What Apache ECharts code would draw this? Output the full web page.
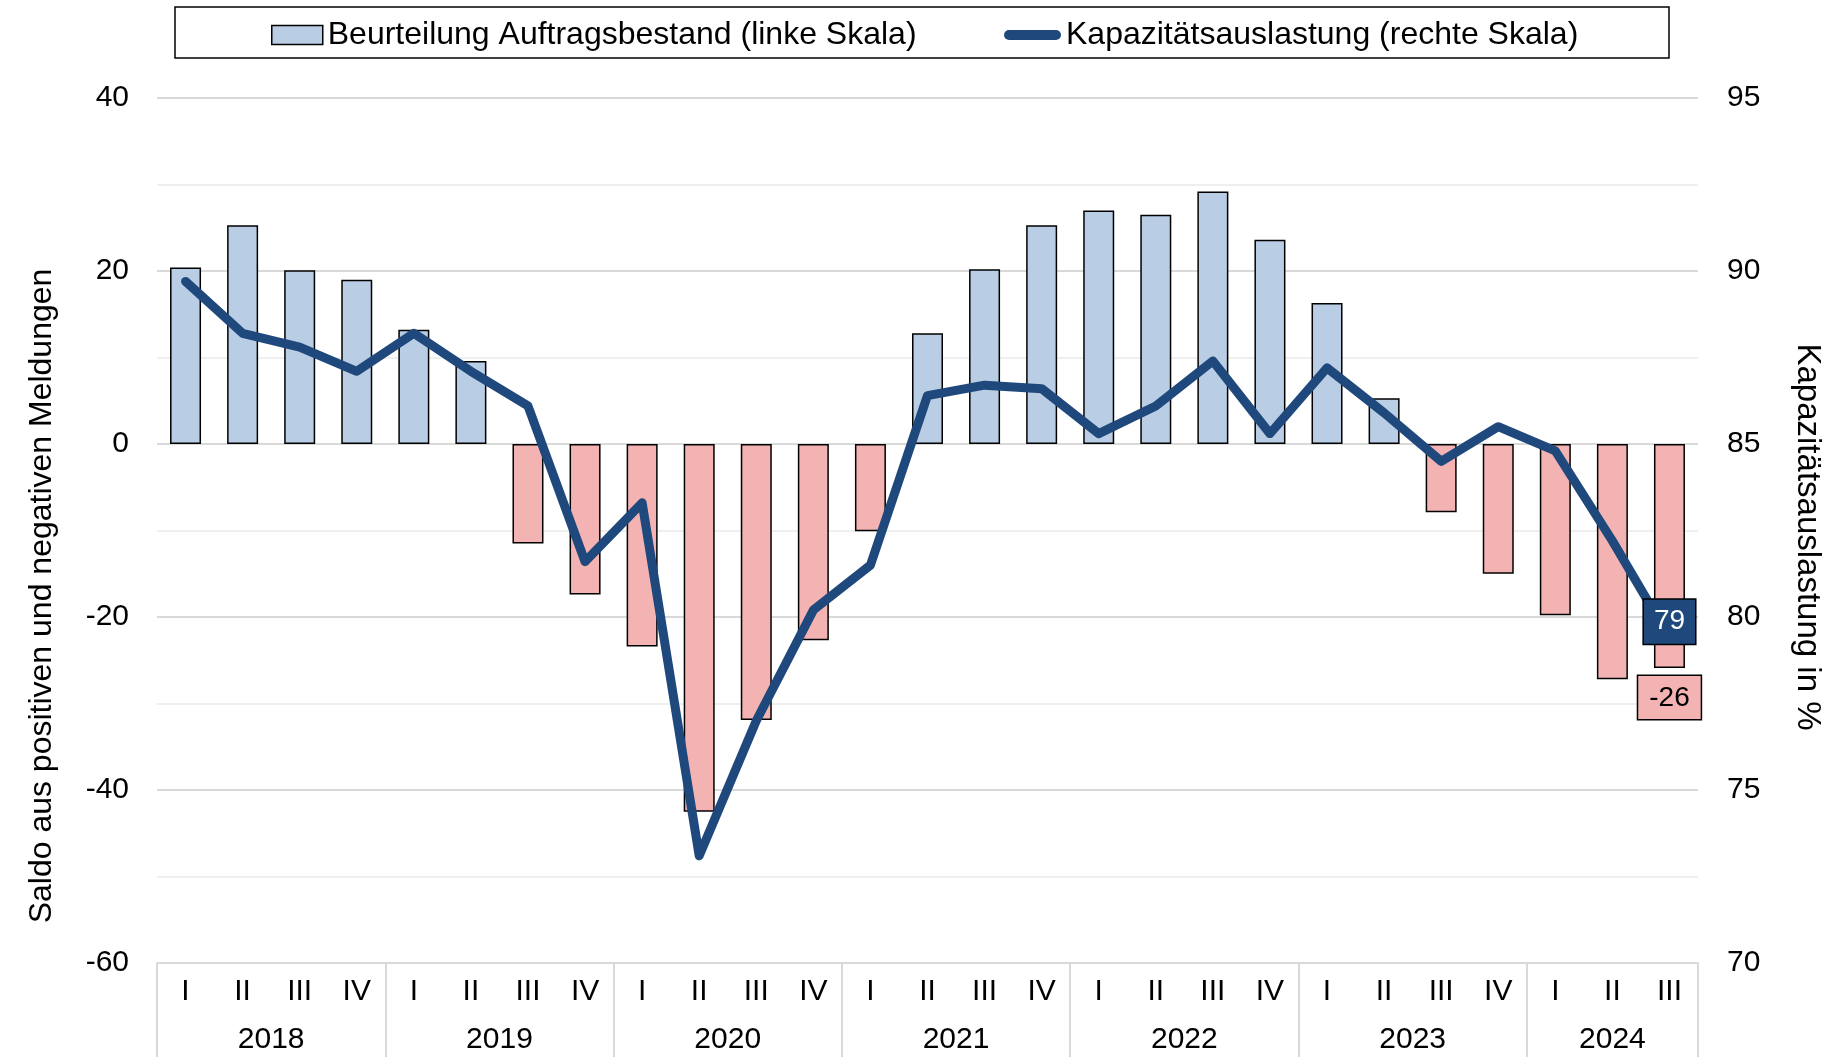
<!DOCTYPE html>
<html>
<head>
<meta charset="utf-8">
<script src="https://cdn.jsdelivr.net/npm/echarts@6/dist/echarts.min.js"></script>
<style>
  html, body { margin: 0; padding: 0; background: #fff; }
  #chart { width: 1828px; height: 1057px; }
</style>
</head>
<body>
<div id="chart"></div>
<script>
const years = ['2018', '2019', '2020', '2021', '2022', '2023', '2024']
const quartersPerYear = [4, 4, 4, 4, 4, 4, 3]
const quarterNames = ['I', 'II', 'III', 'IV']

// Beurteilung Auftragsbestand (linke Skala)
const auftragsbestand = [
  20.4, 25.3, 20.1, 19.0,
  13.2, 9.6, -11.5, -17.4,
  -23.4, -42.5, -31.9, -22.7,
  -10.1, 12.8, 20.2, 25.3,
  27.0, 26.5, 29.2, 23.6,
  16.3, 5.3, -7.9, -15.0,
  -19.8, -27.2, -25.9
]
// Kapazitätsauslastung (rechte Skala)
const auslastung = [
  89.7, 88.2, 87.8, 87.1,
  88.2, 87.1, 86.1, 81.6,
  83.3, 73.1, 77.0, 80.2,
  81.5, 86.4, 86.7, 86.6,
  85.3, 86.1, 87.4, 85.3,
  87.2, 85.9, 84.5, 85.5,
  84.8, 82.2, 79.4
]

const barName = 'Beurteilung Auftragsbestand (linke Skala)'
const lineName = 'Kapazitätsauslastung (rechte Skala)'

const font = '"Liberation Sans", Arial, sans-serif'
const lineColor = '#1f497d'
const posColor = '#b9cde4'
const negColor = '#f4b3b3'

// quarter labels, one per bar
const quarters = []
quartersPerYear.forEach((n) => {
  for (let i = 0; i < n; i++) quarters.push(quarterNames[i])
})

// half-quarter slots so year labels sit in the middle of their block
// and the separator ticks sit on block boundaries
const halfSlots = []
const boundaries = [0]
let pos = 0
years.forEach((y, i) => {
  const n = quartersPerYear[i] * 2
  for (let k = 0; k < n; k++) halfSlots.push(k === n / 2 ? y : '')
  pos += n
  boundaries.push(pos)
})
halfSlots.push('')

const lastIdx = auftragsbestand.length - 1

const barData = auftragsbestand.map((v, i) => {
  if (i !== lastIdx) return v
  return {
    value: v,
    label: {
      show: true,
      position: 'bottom',
      distance: 8,
      formatter: (p) => Math.round(p.value).toString(),
      color: '#000',
      fontFamily: font,
      fontSize: 28,
      lineHeight: 30,
      backgroundColor: negColor,
      borderColor: '#000',
      borderWidth: 1.5,
      padding: [7, 11, 6, 11]
    }
  }
})

const lineData = auslastung.map((v, i) => {
  if (i !== lastIdx) return v
  return {
    value: v,
    symbol: 'circle',
    symbolSize: 1,
    label: {
      show: true,
      position: 'inside',
      offset: [0, -16],
      formatter: (p) => Math.round(p.value).toString(),
      color: '#fff',
      fontFamily: font,
      fontSize: 28,
      lineHeight: 30,
      backgroundColor: lineColor,
      borderColor: '#000',
      borderWidth: 1.5,
      padding: [8, 10, 6, 10]
    }
  }
})

const legendText = { fontFamily: font, fontSize: 32, color: '#000', padding: [0, 0, 0, 0] }

const chart = echarts.init(document.getElementById('chart'), null, { renderer: 'canvas' })

const option = {
  animation: false,
  backgroundColor: '#fff',
  textStyle: { fontFamily: font, color: '#000' },
  grid: { left: 157, right: 130, top: 98, bottom: 94 },
  legend: [
    {
      left: 266,
      top: 14,
      itemWidth: 51,
      itemHeight: 19,
      itemGap: 6,
      textStyle: legendText,
      data: [
        { name: barName, icon: 'rect',
          itemStyle: { color: posColor, borderColor: '#000', borderWidth: 1.5 } }
      ]
    },
    {
      left: 999,
      top: 14,
      itemWidth: 57,
      itemHeight: 11,
      textStyle: legendText,
      data: [
        { name: lineName,
          icon: 'path://M5,0 H52 A5,5 0 0 1 52,10 H5 A5,5 0 0 1 5,0 Z',
          itemStyle: { color: lineColor, borderWidth: 0 } }
      ]
    }
  ],
  graphic: [
    {
      type: 'rect',
      shape: { x: 175, y: 7, width: 1494, height: 51 },
      style: { fill: 'none', stroke: '#000', lineWidth: 1.5 },
      silent: true
    },
    {
      type: 'text',
      x: 42, y: 596,
      rotation: Math.PI / 2,
      style: {
        text: 'Saldo aus positiven und negativen Meldungen',
        font: '32px ' + font,
        fill: '#000',
        textAlign: 'center',
        textVerticalAlign: 'middle'
      }
    },
    {
      type: 'text',
      x: 1807, y: 537,
      rotation: -Math.PI / 2,
      style: {
        text: 'Kapazitätsauslastung in %',
        font: '33px ' + font,
        fill: '#000',
        textAlign: 'center',
        textVerticalAlign: 'middle'
      }
    }
  ],
  xAxis: [
    {
      type: 'category',
      data: quarters,
      position: 'bottom',
      boundaryGap: true,
      axisLine: { onZero: false, lineStyle: { color: '#d9d9d9', width: 2 } },
      axisTick: { show: false },
      axisLabel: { interval: 0, margin: 14, fontFamily: font, fontSize: 30, lineHeight: 30, color: '#000' },
      splitLine: { show: false }
    },
    {
      type: 'category',
      data: halfSlots,
      position: 'bottom',
      offset: 0,
      boundaryGap: false,
      axisLine: { show: false, onZero: false },
      axisTick: {
        show: true,
        length: 94,
        interval: (index) => boundaries.includes(index),
        lineStyle: { color: '#d9d9d9', width: 2 }
      },
      axisLabel: { interval: 0, margin: 62, fontFamily: font, fontSize: 30, lineHeight: 30, color: '#000' },
      splitLine: { show: false }
    }
  ],
  yAxis: [
    {
      type: 'value',
      min: -60,
      max: 40,
      interval: 10,
      axisLine: { show: false },
      axisTick: { show: false },
      axisLabel: {
        margin: 28,
        fontFamily: font,
        fontSize: 30,
        color: '#000',
        formatter: (v) => (v % 20 === 0 ? String(v) : '')
      },
      splitLine: { show: true, lineStyle: { color: ['#d9d9d9', '#efefef'], width: 2 } }
    },
    {
      type: 'value',
      min: 70,
      max: 95,
      interval: 5,
      position: 'right',
      axisLine: { show: false },
      axisTick: { show: false },
      axisLabel: { margin: 29, fontFamily: font, fontSize: 30, color: '#000' },
      splitLine: { show: false }
    }
  ],
  series: [
    {
      name: barName,
      type: 'bar',
      xAxisIndex: 0,
      yAxisIndex: 0,
      barWidth: 31,
      data: barData,
      itemStyle: {
        color: (p) => (p.value >= 0 ? posColor : negColor),
        borderColor: '#000',
        borderWidth: 1.5
      },
      z: 2
    },
    {
      name: lineName,
      type: 'line',
      xAxisIndex: 0,
      yAxisIndex: 1,
      data: lineData,
      symbol: 'none',
      color: lineColor,
      lineStyle: { color: lineColor, width: 9, cap: 'round', join: 'round' },
      z: 5
    }
  ]
}

chart.setOption(option)
</script>
</body>
</html>
